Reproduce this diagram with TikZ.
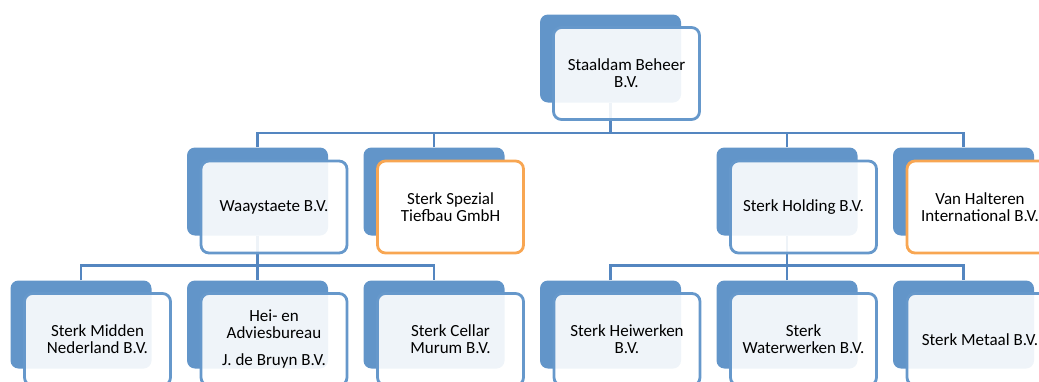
\documentclass[tikz,border=0pt]{standalone}
\usepackage{fontspec}
\setmainfont{Carlito}
\definecolor{backblue}{RGB}{98,149,201}
\definecolor{frontblue}{RGB}{102,152,203}
\definecolor{lineblue}{RGB}{84,134,192}
\definecolor{orangeb}{RGB}{248,166,82}
\tikzset{
  backbox/.style={draw=none,fill=backblue,rounded corners=8pt,minimum width=141pt,minimum height=88pt,inner sep=0pt},
  frontbox/.style={draw=frontblue,line width=2.8pt,fill=white,fill opacity=0.9,text opacity=1,rounded corners=8pt,minimum width=146pt,minimum height=92pt,inner sep=0pt,align=center,font=\fontsize{17}{17}\selectfont,text=black},
  frontorange/.style={frontbox,draw=orangeb,fill opacity=1},
  conn/.style={draw=lineblue,line width=2.8pt}
}
\begin{document}
\begin{tikzpicture}[x=1pt,y=-1pt]
\useasboundingbox (0,0) rectangle (1039,381);
% back boxes
\node[backbox] (b0) at (610.5,58.5) {};
\node[backbox] (b1) at (257.5,191.5) {};
\node[backbox] (b2) at (434,191.5) {};
\node[backbox] (b3) at (787,191.5) {};
\node[backbox] (b4) at (963.5,191.5) {};
\node[backbox] (c1) at (81,324.5) {};
\node[backbox] (c2) at (257.5,324.5) {};
\node[backbox] (c3) at (434,324.5) {};
\node[backbox] (c4) at (610.5,324.5) {};
\node[backbox] (c5) at (787,324.5) {};
\node[backbox] (c6) at (963.5,324.5) {};
% junction coordinates
\coordinate (j0) at (610.5,133);
\coordinate (j1) at (257.5,265.5);
\coordinate (j2) at (787,265.5);
% connectors
\draw[conn] (b0.south) -- (j0);
\draw[conn] (b1.north) |- (j0) -| (b4.north);
\draw[conn] (b2.north) -- (b2.north |- j0);
\draw[conn] (b3.north) -- (b3.north |- j0);
\draw[conn] (b1.south) -- (j1);
\draw[conn] (c1.north) |- (j1) -| (c3.north);
\draw[conn] (c2.north) -- (c2.north |- j1);
\draw[conn] (b3.south) -- (j2);
\draw[conn] (c4.north) |- (j2) -| (c6.north);
\draw[conn] (c5.north) -- (c5.north |- j2);
% front boxes
\node[frontbox] (f0) at (626.5,73.5) {Staaldam Beheer\\B.V.};
\node[frontbox] (f1) at (274,207) {Waaystaete B.V.};
\node[frontorange] (f2) at (450.5,207) {Sterk Spezial\\Tiefbau GmbH};
\node[frontbox] (f3) at (803.5,207) {Sterk Holding B.V.};
\node[frontorange] (f4) at (980,207) {Van Halteren\\International B.V.};
\node[frontbox] (g1) at (97.5,339.5) {Sterk Midden\\Nederland B.V.};
\node[frontbox] (g2) at (274,339.5) {Hei- en\\Adviesbureau\\[10pt]J. de Bruyn B.V.};
\node[frontbox] (g3) at (450.5,339.5) {Sterk Cellar\\Murum B.V.};
\node[frontbox] (g4) at (627,339.5) {Sterk Heiwerken\\B.V.};
\node[frontbox] (g5) at (803.5,339.5) {Sterk\\Waterwerken B.V.};
\node[frontbox] (g6) at (980,339.5) {Sterk Metaal B.V.};
\end{tikzpicture}
\end{document}
